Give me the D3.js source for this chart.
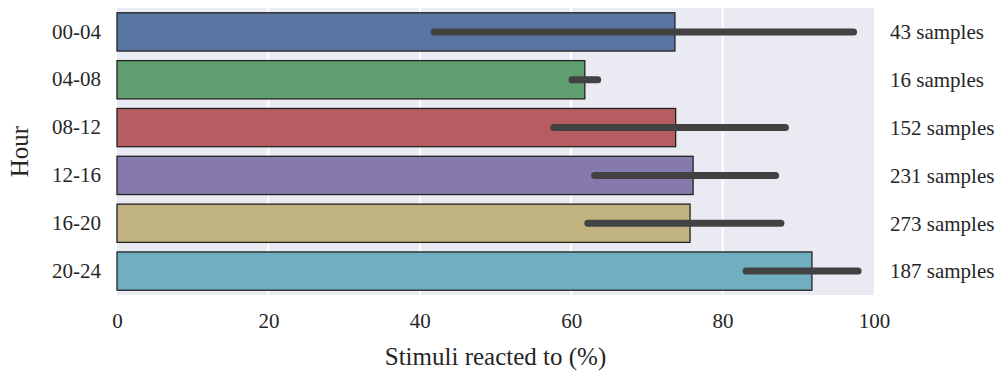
<!DOCTYPE html>
<html>
<head>
<meta charset="utf-8">
<script src="https://cdn.jsdelivr.net/npm/d3@7"></script>
<style>
  body { margin: 0; background: #fff; }
  text { font-family: "Liberation Serif", "DejaVu Serif", serif; fill: #262626; }
</style>
</head>
<body>
<div id="chart"></div>
<script>
// data
const hours = ["00-04", "04-08", "08-12", "12-16", "16-20", "20-24"];
const reacted = [73.7, 61.8, 73.8, 76.1, 75.7, 91.8];
const ciLow = [41.9, 60.1, 57.7, 63.1, 62.2, 83.1];
const ciHigh = [97.3, 63.5, 88.3, 87.0, 87.7, 97.9];
const samples = [43, 16, 152, 231, 273, 187];
const colors = ["#5975a4", "#5f9e6e", "#b55d60", "#857aab", "#c1b37f", "#71aec0"];
const xTicks = [0, 20, 40, 60, 80, 100];

const margin = {top: 8, right: 132, bottom: 77, left: 117},
width = 1006 - margin.left - margin.right,
height = 372 - margin.top - margin.bottom;

const svg = d3.select("#chart")
.append("svg")
.attr("width", 1006)
.attr("height", 372);
const g = svg.append("g")
.attr("transform", "translate(" + margin.left + "," + margin.top + ")");

// scales
const x = d3.scaleLinear().domain([0, 100]).range([0, width]);
const y = d3.scaleBand().domain(hours).range([0, height]).paddingInner(0.2).paddingOuter(0.1);

// background + grid
g.append("rect")
.attr("width", width)
.attr("height", height)
.attr("fill", "#eaeaf2");

g.selectAll(".grid")
.data(xTicks.slice(1, -1))
.enter().append("line")
.attr("x1", d => x(d)).attr("x2", d => x(d))
.attr("y1", 0).attr("y2", height)
.attr("stroke", "#fff")
.attr("stroke-width", 2);

// bars
g.selectAll(".bar")
.data(hours)
.enter().append("rect")
.attr("x", x(0))
.attr("y", d => y(d))
.attr("width", (d, i) => x(reacted[i]) - x(0))
.attr("height", y.bandwidth())
.attr("fill", (d, i) => colors[i])
.attr("stroke", "#222")
.attr("stroke-width", 1.3);

// error bars
g.selectAll(".err")
.data(hours)
.enter().append("line")
.attr("x1", (d, i) => x(ciLow[i]))
.attr("x2", (d, i) => x(ciHigh[i]))
.attr("y1", d => y(d) + y.bandwidth() / 2)
.attr("y2", d => y(d) + y.bandwidth() / 2)
.attr("stroke", "#424242")
.attr("stroke-width", 7)
.attr("stroke-linecap", "round");

// sample counts
g.selectAll(".count")
.data(hours)
.enter().append("text")
.attr("x", width + 16)
.attr("y", d => y(d) + y.bandwidth() / 2)
.attr("dy", "0.35em")
.style("font-size", "21px")
.text((d, i) => samples[i] + " samples");

// axes
const xAxis = g.append("g")
.attr("transform", "translate(0," + height + ")")
.call(d3.axisBottom(x).tickValues(xTicks).tickSize(0).tickPadding(18));
xAxis.select(".domain").remove();
xAxis.selectAll("text").style("font-size", "21px").attr("fill", "#262626");

const yAxis = g.append("g")
.call(d3.axisLeft(y).tickSize(0).tickPadding(16));
yAxis.select(".domain").remove();
yAxis.selectAll("text").style("font-size", "21px").attr("fill", "#262626");

// axis titles
svg.append("text")
.attr("x", margin.left + width / 2)
.attr("y", 365)
.attr("text-anchor", "middle")
.style("font-size", "25px")
.text("Stimuli reacted to (%)");

svg.append("text")
.attr("transform", "translate(28," + (margin.top + height / 2) + ") rotate(-90)")
.attr("text-anchor", "middle")
.style("font-size", "25px")
.text("Hour");
</script>
</body>
</html>
